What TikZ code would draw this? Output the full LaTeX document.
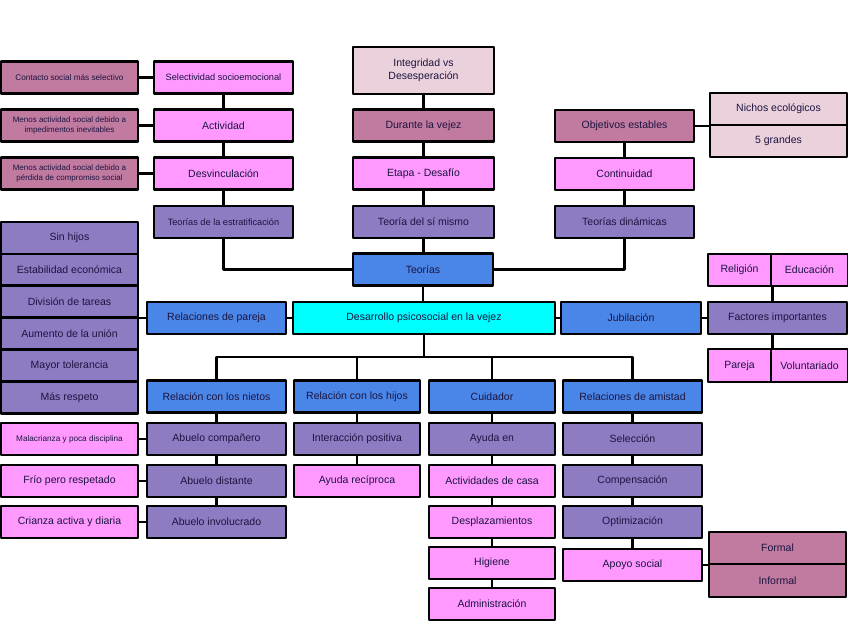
\documentclass[tikz,border=0pt]{standalone}
\usepackage{fontspec}
\setmainfont{Liberation Sans}
\definecolor{mauve}{HTML}{C27BA0}
\definecolor{lpink}{HTML}{EAD1DC}
\definecolor{pink}{HTML}{FF99FF}
\definecolor{lila}{HTML}{8E7CC3}
\definecolor{azul}{HTML}{4A86E8}
\definecolor{cian}{HTML}{00FFFF}
\definecolor{txt}{HTML}{1C1440}
\begin{document}
\begin{tikzpicture}[x=1pt,y=-1pt,line join=round,
	font=\fontsize{10.5}{12.5}\selectfont,
	bx/.style={draw=black,line width=2.6pt,inner sep=1pt,minimum height=32pt,minimum width=139pt,text=txt,align=center},
	narrow/.style={minimum width=126pt},
	mv/.style={fill=mauve},
	lp/.style={fill=lpink},
	pk/.style={fill=pink},
	pu/.style={fill=lila},
	bl/.style={fill=azul},
	cy/.style={fill=cian},
	sm/.style={font=\fontsize{8.2}{9.8}\selectfont},
	xs/.style={font=\fontsize{8}{9.8}\selectfont},
	md/.style={font=\fontsize{9.2}{11}\selectfont},
	ln/.style={line width=2.6pt}]
	\useasboundingbox (0,0) rectangle (848,636);
	% teorias
	\node[bx,mv,sm,minimum width=137pt] (contacto) at (69.5,77.5) {Contacto social más selectivo};
	\node[bx,mv,xs,minimum width=137pt] (menos1) at (69.5,125.5) {Menos actividad social debido a\\impedimentos inevitables};
	\node[bx,mv,xs,minimum width=137pt] (menos2) at (69.5,173.5) {Menos actividad social debido a\\pérdida de compromiso social};
	\node[bx,pk,md] (selec) at (223.5,77.5) {Selectividad socioemocional};
	\node[bx,pk] (activ) at (223.5,125.5) {Actividad};
	\node[bx,pk] (desv) at (223.5,173.5) {Desvinculación};
	\node[bx,pu,md] (estrat) at (223.5,222) {Teorías de la estratificación};
	\node[bx,lp,minimum width=141pt,minimum height=47pt] (integ) at (423.5,70.5) {Integridad vs\\Desesperación};
	\node[bx,mv,minimum width=141pt] (durante) at (423.5,125.5) {Durante la vejez};
	\node[bx,pk,minimum width=141pt] (etapa) at (423.5,173.5) {Etapa - Desafío};
	\node[bx,pu,minimum width=141pt] (simismo) at (423.5,222) {Teoría del sí mismo};
	\node[bx,bl,minimum width=140pt] (teorias) at (423,269.5) {Teorías};
	\node[bx,mv] (objet) at (624.5,126) {Objetivos estables};
	\node[bx,pk] (contin) at (624.5,174) {Continuidad};
	\node[bx,pu] (dinam) at (624.5,222) {Teorías dinámicas};
	\node[bx,lp,minimum width=137pt] (nichos) at (778.5,109) {Nichos ecológicos};
	\node[bx,lp,minimum width=137pt] (grandes) at (778.5,141) {5 grandes};
	% fila central
	\foreach \n/\t [count=\i] in {sinhijos/Sin hijos,estab/Estabilidad económica,divis/División de tareas,aument/Aumento de la unión,mayor/Mayor tolerancia,respeto/Más respeto}
	\node[bx,pu,minimum width=137pt,minimum height=31.9pt] (\n) at (69.5,{206+\i*31.9}) {\t};
	\node[bx,bl] (pareja) at (216.5,318) {Relaciones de pareja};
	\node[bx,cy,minimum width=262pt] (desarr) at (424,318) {Desarrollo psicosocial en la vejez};
	\node[bx,bl,minimum width=140pt] (jubil) at (631,318) {Jubilación};
	\node[bx,pu] (factor) at (777.5,318) {Factores importantes};
	\node[bx,pk,minimum width=63pt] (relig) at (739.5,270) {Religión};
	\node[bx,pk,minimum width=77pt] (educ) at (809.5,270) {Educación};
	\node[bx,pk,minimum width=63pt,minimum height=33pt] (parj) at (739.5,365.5) {Pareja};
	\node[bx,pk,minimum width=77pt,minimum height=33pt] (volun) at (809.5,365.5) {Voluntariado};
	% relaciones
	\node[bx,bl] (nietos) at (216.5,396.5) {Relación con los nietos};
	\node[bx,bl,narrow] (hijos) at (357,396.5) {Relación con los hijos};
	\node[bx,bl,narrow] (cuida) at (492,396.5) {Cuidador};
	\node[bx,bl] (amist) at (632.5,396.5) {Relaciones de amistad};
	\node[bx,pk,sm,minimum width=137pt] (malacr) at (69.5,439) {Malacrianza y poca disciplina};
	\node[bx,pk,minimum width=137pt] (frio) at (69.5,481) {Frío pero respetado};
	\node[bx,pk,minimum width=137pt] (crianza) at (69.5,522) {Crianza activa y diaria};
	\node[bx,pu] (compan) at (216.5,439) {Abuelo compañero};
	\node[bx,pu] (distan) at (216.5,481) {Abuelo distante};
	\node[bx,pu] (involu) at (216.5,522) {Abuelo involucrado};
	\node[bx,pu,narrow] (interac) at (357,439) {Interacción positiva};
	\node[bx,pk,narrow] (recipr) at (357,481) {Ayuda recíproca};
	\node[bx,pu,narrow] (ayuda) at (492,439) {Ayuda en};
	\node[bx,pk,narrow] (casa) at (492,481) {Actividades de casa};
	\node[bx,pk,narrow] (despl) at (492,522) {Desplazamientos};
	\node[bx,pk,narrow] (higiene) at (492,563) {Higiene};
	\node[bx,pk,narrow] (admin) at (492,604) {Administración};
	\node[bx,pu] (seleccion) at (632.5,439) {Selección};
	\node[bx,pu] (compens) at (632.5,481) {Compensación};
	\node[bx,pu] (optim) at (632.5,522) {Optimización};
	\node[bx,pk] (apoyo) at (632.5,565) {Apoyo social};
	\node[bx,mv,minimum width=137pt] (formal) at (777.5,548) {Formal};
	\node[bx,mv,minimum width=137pt,minimum height=33pt] (informal) at (777.5,580.5) {Informal};
	\coordinate (bus) at (424,357);
	% lineas
	\draw[ln] (contacto)--(selec) (menos1)--(activ) (menos2)--(desv) (selec)--(activ)--(desv)--(estrat);
	\draw[ln] (integ)--(durante)--(etapa)--(simismo) (simismo.south)--(simismo.south |- teorias.north);
	\draw[ln] (objet)--(contin)--(dinam) (objet.east)--(objet.east -| nichos.west);
	\draw[ln] (estrat.south) |- (teorias.west) (dinam.south) |- (teorias.east) (teorias.south)--(teorias.south |- desarr.north);
	\draw[ln] (pareja)--(desarr) (desarr)--(jubil) (jubil)--(factor) (pareja.west)--(pareja.west -| divis.east);
	\draw[ln] (relig.south east)--(relig.south east |- factor.north) (parj.north east)--(parj.north east |- factor.south);
	\draw[ln] (desarr.south)--(bus) (nietos.north) |- (bus) -| (amist.north) (hijos.north)--(hijos.north |- bus) (cuida.north)--(cuida.north |- bus);
	\draw[ln] (nietos)--(compan)--(distan)--(involu) (malacr)--(compan) (frio)--(distan) (crianza)--(involu);
	\draw[ln] (hijos)--(interac)--(recipr) (cuida)--(ayuda)--(casa)--(despl)--(higiene)--(admin);
	\draw[ln] (amist)--(seleccion)--(compens)--(optim)--(apoyo) (apoyo.east)--(apoyo.east -| formal.west);
\end{tikzpicture}
\end{document}
